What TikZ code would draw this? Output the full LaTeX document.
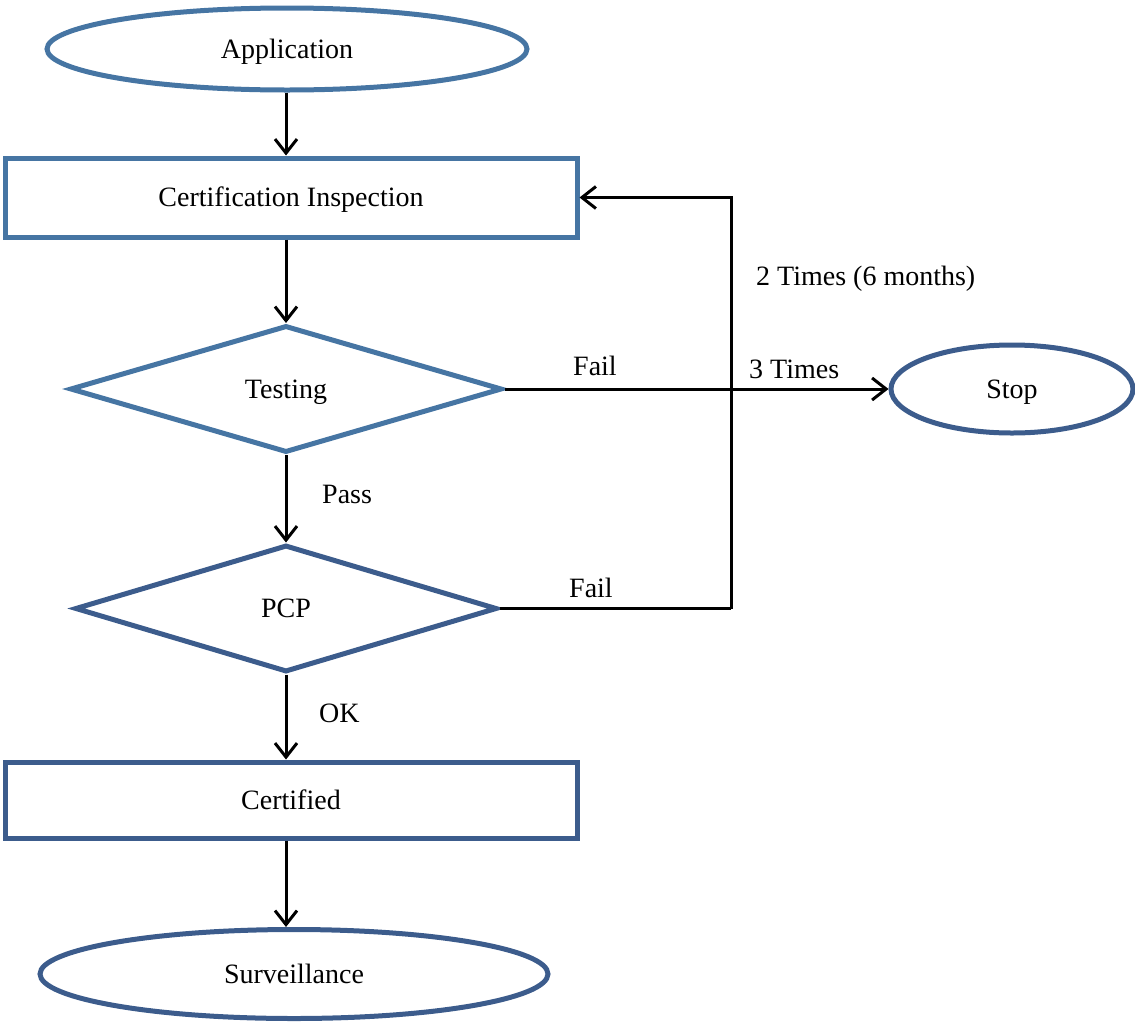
\documentclass[tikz,border=0pt]{standalone}
\usepackage{fontspec}
\setmainfont{Liberation Serif}
\usetikzlibrary{shapes.geometric,arrows.meta}
\definecolor{blueA}{RGB}{70,117,163}
\definecolor{blueB}{RGB}{60,92,140}
\tikzset{
  base/.style={font=\fontsize{28}{32}\selectfont, inner sep=0pt, line width=5pt, text height=20pt, text depth=2pt},
  oval/.style={base, ellipse, draw},
  boxnode/.style={base, rectangle, draw},
  dia/.style={base, diamond, draw},
  arr/.style={line width=3pt, black, -{Straight Barb[length=14pt,width=22pt,line width=3pt]}},
  conn/.style={line width=3pt, black},
  lbl/.style={font=\fontsize{28}{32}\selectfont, inner sep=0pt, anchor=base west}
}
\begin{document}
\begin{tikzpicture}[x=1pt,y=-1pt]
\useasboundingbox (0,0) rectangle (1135,1023);
\node[oval, blueA, text=black, minimum width=480, minimum height=82] (app) at (287,49) {Application};
\node[boxnode, blueA, text=black, minimum width=572, minimum height=79] (ci) at (291,197.5) {Certification Inspection};
\node[dia, blueA, text=black, minimum width=432, minimum height=127] (test) at (286,389) {Testing};
\node[oval, blueB, text=black, minimum width=242, minimum height=88] (stop) at (1012,389) {Stop};
\node[dia, blueB, text=black, minimum width=422, minimum height=127] (pcp) at (286,608.5) {PCP};
\node[boxnode, blueB, text=black, minimum width=572, minimum height=76] (cert) at (291,800) {Certified};
\node[oval, blueB, text=black, minimum width=508, minimum height=89] (surv) at (294,974) {Surveillance};
\coordinate (turn) at (731,608.5);

\draw[arr] (test.north |- app.south) -- (test.north |- ci.north);
\draw[arr] (test.north |- ci.south) -- (test.north);
\draw[arr] (test.east) -- (stop.west);
\draw[arr] (test.south) -- (pcp.north);
\draw[conn] (pcp.east) -- (turn);
\draw[arr] (turn) |- (ci.east);
\draw[arr] (pcp.south) -- (pcp.south |- cert.north);
\draw[arr] (pcp.south |- cert.south) -- (pcp.south |- surv.north);

\node[lbl] (lfail1) at (573,375) {Fail};
\node[lbl] (l3) at (749,378) {3 Times};
\node[lbl] (l2) at (756,285) {2 Times (6 months)};
\node[lbl] (lpass) at (322,503) {Pass};
\node[lbl] (lfail2) at (569,597) {Fail};
\node[lbl] (lok) at (319,722) {OK};
\end{tikzpicture}
\end{document}
